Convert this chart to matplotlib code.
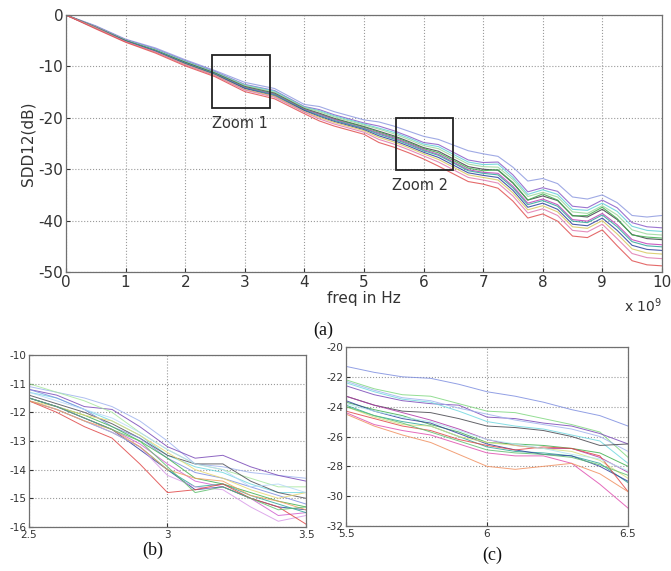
import matplotlib
matplotlib.use("Agg")
import matplotlib.pyplot as plt
from matplotlib.patches import Rectangle
import numpy as np

plt.rcParams['axes.unicode_minus'] = False

# frequency grid of the full sweep (GHz)
freq = [0, 0.5, 1, 1.5, 2, 2.5, 3, 3.5, 4, 4.25, 4.5, 4.75, 5, 5.25, 5.5, 5.75,
        6, 6.25, 6.5, 6.75, 7, 7.25, 7.5, 7.75, 8, 8.25, 8.5, 8.75, 9, 9.25,
        9.5, 9.75, 10]

# SDD12 (dB) of each measured channel, full sweep
sdd_full = [
    [0, -2.1, -4.7, -6.4, -8.7, -10.8, -13.1, -14.3, -17.4, -17.8, -18.8, -19.6, -20.4, -20.8, -21.6, -22.6, -23.6, -24.2, -25.3, -26.4, -27.0, -27.5, -29.6, -32.3, -31.8, -32.8, -35.4, -35.8, -35.0, -36.5, -39.0, -39.3, -39.0],
    [0, -2.2, -4.8, -6.6, -8.9, -11.0, -13.5, -14.7, -17.8, -18.4, -19.4, -20.2, -21.0, -21.6, -22.5, -23.6, -24.8, -25.2, -26.7, -28.2, -28.7, -28.6, -31.1, -34.4, -33.6, -34.3, -37.2, -37.5, -36.0, -37.5, -40.4, -41.2, -41.4],
    [0, -2.3, -4.9, -6.7, -9.0, -11.1, -13.6, -14.8, -17.9, -18.6, -19.6, -20.4, -21.2, -22.0, -22.8, -23.9, -25.1, -25.6, -27.1, -28.6, -29.1, -29.0, -31.6, -34.9, -34.0, -34.9, -37.8, -38.0, -36.6, -38.2, -41.1, -41.9, -42.1],
    [0, -2.3, -4.9, -6.8, -9.1, -11.2, -13.7, -15.0, -18.0, -18.8, -19.8, -20.6, -21.4, -22.2, -23.1, -24.2, -25.4, -26.0, -27.5, -29.0, -29.5, -29.6, -32.0, -35.3, -34.5, -35.4, -38.3, -38.6, -37.1, -38.9, -41.8, -42.6, -42.8],
    [0, -2.4, -5.0, -6.9, -9.2, -11.3, -13.9, -15.2, -18.2, -19.1, -20.1, -20.9, -21.7, -22.6, -23.5, -24.6, -25.8, -26.5, -28.0, -29.5, -30.0, -30.2, -32.7, -36.0, -35.2, -36.1, -39.0, -39.3, -37.8, -39.8, -42.7, -43.5, -43.7],
    [0, -2.4, -5.0, -6.9, -9.3, -11.4, -14.0, -15.3, -18.3, -19.2, -20.2, -21.0, -21.8, -22.8, -23.7, -24.8, -26.0, -26.8, -28.3, -29.8, -30.3, -30.1, -32.6, -36.0, -34.8, -36.0, -39.1, -39.0, -37.4, -39.6, -42.8, -43.2, -43.4],
    [0, -2.4, -5.1, -7.0, -9.4, -11.5, -14.1, -15.4, -18.4, -19.3, -20.3, -21.2, -22.0, -23.0, -23.9, -25.0, -26.2, -27.1, -28.6, -30.1, -30.6, -30.8, -33.3, -36.6, -35.8, -36.9, -39.8, -40.1, -38.6, -40.8, -43.7, -44.5, -44.7],
    [0, -2.5, -5.1, -7.0, -9.4, -11.5, -14.2, -15.5, -18.5, -19.5, -20.5, -21.3, -22.1, -23.2, -24.1, -25.2, -26.4, -27.3, -28.8, -30.3, -30.8, -31.1, -33.6, -36.9, -36.1, -37.2, -40.1, -40.4, -38.9, -41.2, -44.1, -44.9, -45.1],
    [0, -2.5, -5.1, -7.1, -9.5, -11.6, -14.3, -15.7, -18.6, -19.7, -20.7, -21.5, -22.3, -23.5, -24.4, -25.5, -26.7, -27.7, -29.2, -30.7, -31.2, -31.6, -34.1, -37.4, -36.6, -37.8, -40.7, -41.0, -39.5, -41.9, -44.8, -45.6, -45.8],
    [0, -2.5, -5.2, -7.2, -9.6, -11.7, -14.5, -15.8, -18.8, -19.9, -20.9, -21.7, -22.5, -23.8, -24.7, -25.8, -27.0, -28.1, -29.6, -31.1, -31.6, -32.1, -34.6, -37.9, -37.1, -38.3, -41.2, -41.5, -40.0, -42.6, -45.5, -46.3, -46.5],
    [0, -2.6, -5.2, -7.2, -9.7, -11.8, -14.6, -16.0, -18.9, -20.2, -21.2, -22.0, -22.8, -24.2, -25.1, -26.2, -27.4, -28.6, -30.1, -31.6, -32.1, -32.7, -35.2, -38.5, -37.7, -39.0, -41.9, -42.2, -40.7, -43.5, -46.4, -47.2, -47.4],
    [0, -2.7, -5.3, -7.4, -9.9, -12.0, -14.9, -16.3, -19.2, -20.6, -21.6, -22.4, -23.2, -24.8, -25.7, -26.8, -28.0, -29.4, -30.9, -32.4, -32.9, -33.7, -36.2, -39.5, -38.7, -40.1, -43.0, -43.3, -41.8, -44.9, -47.8, -48.6, -48.8],
]
full_colors = ['#8f9be0', '#8a5cc8', '#62d0d8', '#9ad89a', '#404048', '#3fae4f',
               '#c040b8', '#2fa59a', '#2c3f9c', '#d8c860', '#e07ab0', '#e05050']

# zoom 1 window, 2.5 - 3.5 GHz
freq_z1 = [2.5, 2.6, 2.7, 2.8, 2.9, 3.0, 3.1, 3.2, 3.3, 3.4, 3.5]
sdd_z1 = [
    [-11.1, -11.3, -11.5, -11.8, -12.3, -13.0, -13.8, -13.9, -14.1, -14.2, -14.3],
    [-11.2, -11.4, -11.8, -11.9, -12.5, -13.2, -13.6, -13.5, -13.9, -14.2, -14.4],
    [-11.0, -11.3, -11.6, -12.0, -12.7, -13.3, -13.8, -14.0, -14.3, -14.6, -14.6],
    [-11.3, -11.5, -11.9, -12.3, -12.8, -13.5, -13.9, -14.1, -14.5, -14.8, -14.8],
    [-11.4, -11.7, -12.0, -12.4, -12.9, -13.5, -13.8, -13.8, -14.4, -14.8, -15.0],
    [-11.2, -11.5, -11.9, -12.5, -12.9, -13.6, -14.1, -14.3, -14.6, -14.9, -15.2],
    [-11.5, -11.8, -12.1, -12.5, -13.0, -13.6, -14.3, -14.5, -14.8, -15.1, -15.3],
    [-11.6, -11.8, -12.1, -12.3, -12.8, -13.4, -14.0, -14.3, -14.7, -15.0, -14.8],
    [-11.5, -11.8, -12.2, -12.6, -13.1, -13.8, -14.4, -14.6, -15.0, -15.6, -15.5],
    [-11.5, -11.8, -12.2, -12.6, -13.3, -14.0, -14.7, -14.6, -15.0, -15.3, -15.4],
    [-11.6, -11.9, -12.3, -12.7, -13.2, -14.0, -14.6, -14.5, -14.9, -15.2, -15.5],
    [-11.6, -11.9, -12.3, -12.7, -13.2, -14.2, -14.6, -14.7, -15.3, -15.8, -15.6],
    [-11.6, -12.0, -12.5, -12.9, -13.8, -14.8, -14.7, -14.5, -15.0, -15.3, -15.9],
    [-11.6, -11.9, -12.3, -12.6, -13.2, -14.0, -14.3, -14.4, -14.9, -15.1, -15.4],
    [-11.3, -11.6, -11.9, -12.2, -12.7, -13.3, -13.8, -14.0, -14.6, -14.5, -14.8],
    [-11.5, -11.8, -12.2, -12.6, -13.0, -13.9, -14.8, -14.6, -15.0, -15.4, -15.3],
]
z1_colors = ['#a0b4ee', '#7a4ab8', '#a8e8a0', '#70d8e0', '#505058', '#7f8fe0',
             '#40b050', '#e8d870', '#d060d0', '#30409c', '#30a898', '#d89ae8',
             '#e04848', '#f0a060', '#b8d8f8', '#60c070']

# zoom 2 window, 5.5 - 6.5 GHz
freq_z2 = [5.5, 5.6, 5.7, 5.8, 5.9, 6.0, 6.1, 6.2, 6.3, 6.4, 6.5]
sdd_z2 = [
    [-21.3, -21.7, -22.0, -22.1, -22.5, -23.0, -23.3, -23.7, -24.2, -24.6, -25.3],
    [-22.2, -22.8, -23.2, -23.3, -23.8, -24.3, -24.4, -24.8, -25.2, -25.7, -27.4],
    [-22.6, -23.2, -23.6, -23.8, -23.9, -24.7, -24.8, -25.1, -25.3, -25.8, -26.5],
    [-22.3, -22.9, -23.4, -23.6, -24.1, -24.5, -24.9, -25.2, -25.5, -26.0, -27.0],
    [-22.4, -23.0, -23.5, -23.7, -24.3, -25.0, -25.3, -25.5, -25.9, -26.3, -27.8],
    [-23.3, -23.9, -24.3, -24.4, -24.8, -25.3, -25.4, -25.6, -26.0, -26.6, -26.5],
    [-23.3, -23.9, -24.4, -24.9, -25.5, -26.2, -26.6, -26.8, -26.8, -27.4, -28.4],
    [-23.7, -24.2, -24.6, -25.2, -25.7, -26.4, -26.5, -26.6, -26.8, -27.1, -28.0],
    [-23.9, -24.6, -25.0, -25.3, -26.0, -26.7, -27.0, -27.1, -27.3, -27.8, -29.1],
    [-23.6, -24.3, -24.8, -25.1, -25.8, -26.5, -26.9, -27.2, -27.3, -28.0, -29.0],
    [-24.0, -24.7, -25.2, -25.3, -26.0, -26.4, -26.6, -26.8, -27.0, -27.6, -28.8],
    [-24.3, -24.8, -25.3, -25.6, -26.2, -26.6, -26.9, -26.7, -26.8, -27.3, -29.7],
    [-24.4, -25.2, -25.6, -25.9, -26.5, -27.1, -27.3, -27.3, -27.8, -29.2, -30.8],
    [-24.5, -25.3, -25.9, -26.4, -27.2, -28.0, -28.2, -28.0, -27.8, -28.5, -29.7],
    [-23.8, -24.3, -24.7, -25.0, -25.6, -26.2, -26.5, -26.8, -27.2, -27.5, -28.3],
    [-24.0, -24.6, -25.1, -25.7, -26.3, -26.9, -27.1, -27.2, -27.4, -27.9, -28.6],
]
z2_colors = ['#7f8fe0', '#80d880', '#7a4ab8', '#a0b4ee', '#70d8e0', '#48484f',
             '#b03aa8', '#40b050', '#30a898', '#30409c', '#d8e080', '#e04848',
             '#e050b0', '#f09060', '#b0e8f0', '#60c070']

TICK_GRAY = '#333333'
GRID_KW = dict(color='#9a9a9a', linestyle=':', linewidth=0.8)


def style_axes(ax, fs):
    ax.grid(True, **GRID_KW)
    ax.tick_params(direction='in', length=3, labelsize=fs, colors=TICK_GRAY,
                   pad=2)
    for sp in ax.spines.values():
        sp.set_color('#707070')
        sp.set_linewidth(0.9)


fig = plt.figure(figsize=(6.71, 5.71), dpi=100)

# full sweep
ax = fig.add_axes([0.0984, 0.5236, 0.888, 0.4501])
for y, c in zip(sdd_full, full_colors):
    ax.plot(freq, y, color=c, lw=0.8, alpha=0.85)
ax.set_xlim(0, 10)
ax.set_ylim(-50, 0)
ax.set_xticks(range(0, 11))
ax.set_yticks(range(-50, 1, 10))
style_axes(ax, 11)
ax.set_xlabel('freq in Hz', fontsize=11, color=TICK_GRAY, labelpad=1)
ax.set_ylabel('SDD12(dB)', fontsize=11, color=TICK_GRAY, labelpad=2)
ax.text(1.0, -0.13, r'x 10$^9$', transform=ax.transAxes, ha='right',
        va='center', fontsize=10, color=TICK_GRAY)

ax.add_patch(Rectangle((2.45, -18.0), 0.97, 10.2, fill=False,
                       edgecolor='#222222', lw=1.3, zorder=5))
ax.text(2.92, -21.2, 'Zoom 1', ha='center', va='center', fontsize=10.5,
        color='#333333')
ax.add_patch(Rectangle((5.53, -30.2), 0.97, 10.2, fill=False,
                       edgecolor='#222222', lw=1.3, zorder=5))
ax.text(5.94, -33.2, 'Zoom 2', ha='center', va='center', fontsize=10.5,
        color='#333333')

# zoom 1
axb = fig.add_axes([0.0432, 0.0771, 0.4128, 0.3012])
for y, c in zip(sdd_z1, z1_colors):
    axb.plot(freq_z1, y, color=c, lw=0.7, alpha=0.85)
axb.set_xlim(2.5, 3.5)
axb.set_ylim(-16, -10)
axb.set_xticks([2.5, 3, 3.5])
axb.set_xticklabels(['2.5', '3', '3.5'])
axb.set_yticks(range(-16, -9))
style_axes(axb, 7.5)

# zoom 2
axc = fig.add_axes([0.5157, 0.0788, 0.4203, 0.3135])
for y, c in zip(sdd_z2, z2_colors):
    axc.plot(freq_z2, y, color=c, lw=0.7, alpha=0.85)
axc.set_xlim(5.5, 6.5)
axc.set_ylim(-32, -20)
axc.set_xticks([5.5, 6, 6.5])
axc.set_xticklabels(['5.5', '6', '6.5'])
axc.set_yticks(range(-32, -19, 2))
style_axes(axc, 7.5)

for label, x, y in [('(a)', 323, 330), ('(b)', 153, 550), ('(c)', 492, 555)]:
    fig.text(x / 671, 1 - y / 571, label, ha='center', va='center',
             fontsize=13, family='Liberation Serif', color='#111111')

fig.savefig('out.png', dpi=100)
